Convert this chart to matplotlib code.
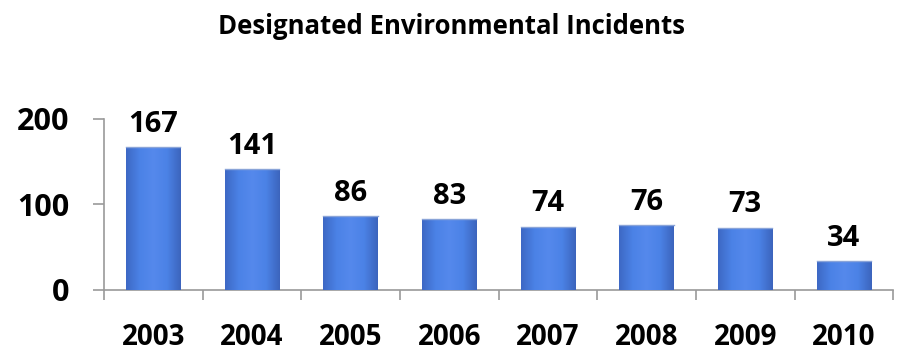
import matplotlib.pyplot as plt
import numpy as np
from matplotlib.colors import LinearSegmentedColormap

years = ['2003', '2004', '2005', '2006', '2007', '2008', '2009', '2010']
incidents = [167, 141, 86, 83, 74, 76, 73, 34]

plt.rcParams['font.family'] = ['Open Sans', 'DejaVu Sans']
plt.rcParams['font.weight'] = 'bold'

fig = plt.figure(figsize=(9.04, 3.54), dpi=100)
ax = fig.add_axes([0.115, 0.181, 0.873, 0.483])

x = np.arange(len(years))
bars = ax.bar(x, incidents, width=0.55, color='#4a80e4', zorder=2)

# shade each bar like a rounded column: darker edges, lighter middle
shade = LinearSegmentedColormap.from_list(
    'col', ['#3d68c4', '#4b82e6', '#5589ec', '#4b82e6', '#3c64bc'])
grad = np.linspace(0, 1, 256).reshape(1, -1)
for b in bars:
    x0, w, h = b.get_x(), b.get_width(), b.get_height()
    im = ax.imshow(grad, cmap=shade, aspect='auto', zorder=3,
                   extent=[x0, x0 + w, 0, h])
    im.set_clip_path(b)
    ax.plot([x0, x0 + w], [h, h], color='#8aa4d8', lw=1, zorder=4)

for xi, v in zip(x, incidents):
    ax.annotate(str(v), (xi, v), xytext=(0, 11), textcoords='offset points',
                ha='center', va='baseline', fontsize=21, fontweight='bold',
                color='black')

ax.set_xlim(-0.5, len(years) - 0.5)
ax.set_ylim(0, 200)
ax.set_yticks([0, 100, 200])
ax.set_xticks(x)
ax.set_xticklabels(years)
ax.set_xticks(np.arange(len(years) + 1) - 0.5, minor=True)
ax.tick_params(axis='x', which='major', length=0, pad=24, labelsize=20)
ax.tick_params(axis='x', which='minor', length=7, color='#9a9a9a', width=1.2)
ax.tick_params(axis='y', length=8, color='#9a9a9a', width=1.2, pad=17,
               labelsize=22)
for lab in ax.get_xticklabels() + ax.get_yticklabels():
    lab.set_fontweight('bold')

for s in ['top', 'right']:
    ax.spines[s].set_visible(False)
for s in ['left', 'bottom']:
    ax.spines[s].set_color('#9a9a9a')
    ax.spines[s].set_linewidth(1.2)

fig.text(0.5, 0.924, 'Designated Environmental Incidents', ha='center',
         va='center', fontsize=18.5, fontweight='bold')

fig.savefig('out.png', dpi=100)
